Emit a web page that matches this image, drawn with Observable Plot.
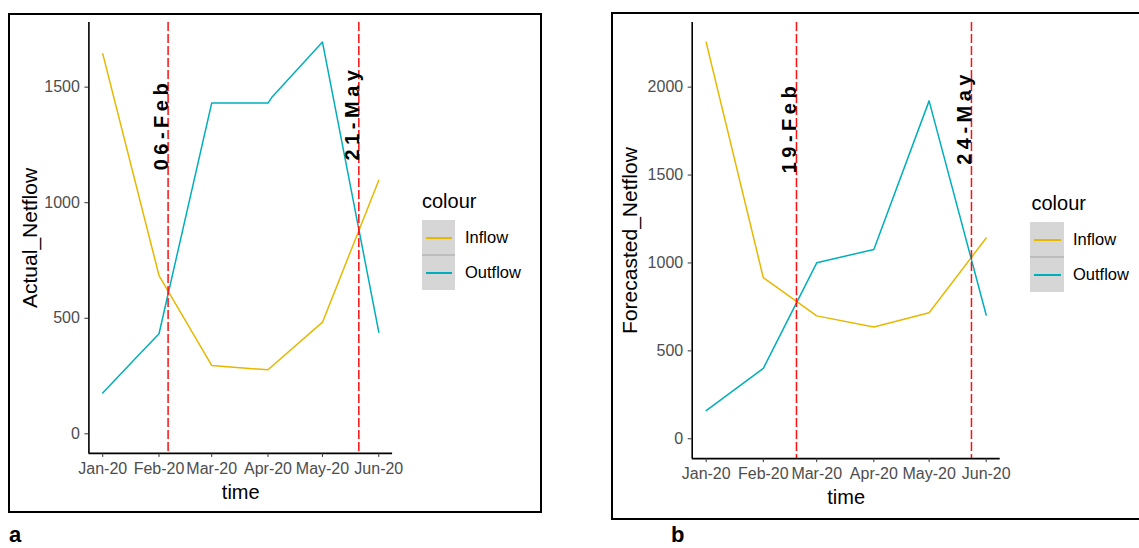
<!DOCTYPE html>
<html>
<head>
<meta charset="utf-8">
<script src="https://cdn.jsdelivr.net/npm/d3@7"></script>
<script src="https://cdn.jsdelivr.net/npm/@observablehq/plot@0.6"></script>
<style>
  body { margin: 0; background: #fff; font-family: "Liberation Sans", Arial, sans-serif; }
  #stage { position: relative; width: 1139px; height: 548px; overflow: hidden; background: #fff; }
  .box { position: absolute; border: 2px solid #000; box-sizing: border-box; }
  .panel { position: absolute; top: 0; }
  .panel svg { overflow: visible; max-width: none; }
  g[font-weight="bold"] text { letter-spacing: 4.5px; }
  .ltitle { position: absolute; font-size: 20px; line-height: 20px; color: #000; white-space: nowrap; }
  .lkey { position: absolute; background: #D6D6D6; box-sizing: border-box; }
  .lsep { position: absolute; height: 2px; background: #BDBDBD; }
  .lline { position: absolute; height: 2px; }
  .llabel { position: absolute; font-size: 16.5px; line-height: 16px; color: #000; white-space: nowrap; }
  .tag { position: absolute; font-size: 22px; line-height: 22px; font-weight: bold; color: #000; }
</style>
</head>
<body>
<div id="stage">
  <div class="box" style="left:8px;top:13px;width:534px;height:500px;"></div>
  <div class="box" style="left:611px;top:12px;width:560px;height:508px;"></div>
  <div class="tag" style="left:9px;top:524px;">a</div>
  <div class="tag" style="left:671px;top:524px;">b</div>
</div>
<script>
// ---- data ----
const months = ["2020-01-01", "2020-02-01", "2020-03-01", "2020-04-01", "2020-05-01", "2020-06-01"];
const seriesNames = ["Inflow", "Outflow"];
const seriesColors = ["#E7B800", "#00AFBB"];

// Panel a: actual
const actualInflowDates = ["2020-01-01", "2020-02-01", "2020-03-01", "2020-03-13", "2020-04-01", "2020-05-01", "2020-06-01"];
const actualInflow = [1645, 685, 296, 288, 277, 483, 1097];
const actualOutflowDates = ["2020-01-01", "2020-01-17", "2020-02-01", "2020-03-01", "2020-04-01", "2020-04-03", "2020-05-01", "2020-06-01"];
const actualOutflow = [177, 310, 433, 1431, 1431, 1455, 1695, 440];
const actualCrossDates = ["2020-02-06", "2020-05-21"];
const actualCrossLabels = ["06-Feb", "21-May"];
const actualCrossLabelY = [1140, 1183];
const actualYTicks = [0, 500, 1000, 1500];

// Panel b: forecast
const forecastDates = ["2020-01-01", "2020-02-01", "2020-03-01", "2020-04-01", "2020-05-01", "2020-06-01"];
const forecastInflow = [2255, 916, 699, 636, 717, 1142];
const forecastOutflow = [160, 400, 1001, 1077, 1922, 704];
const forecastCrossDates = ["2020-02-19", "2020-05-24"];
const forecastCrossLabels = ["19-Feb", "24-May"];
const forecastCrossLabelY = [1510, 1558];
const forecastYTicks = [0, 500, 1000, 1500, 2000];

// ---- drawing ----
const stage = document.getElementById("stage");
const parse = d3.utcParse("%Y-%m-%d");
const fmt = d3.utcFormat("%b-%y");

function panel(cfg) {
  const rows = [
    ...cfg.inDates.map((d, i) => ({t: parse(d), v: cfg.inVals[i], s: seriesNames[0]})),
    ...cfg.outDates.map((d, i) => ({t: parse(d), v: cfg.outVals[i], s: seriesNames[1]}))
  ];
  const t0 = parse(months[0]), t1 = parse(months[months.length - 1]);
  const span = t1 - t0;
  const xDomain = [new Date(+t0 - 0.05 * span), new Date(+t1 + 0.05 * span)];
  const vmax = d3.max(rows, d => d.v), vmin = Math.min(0, d3.min(rows, d => d.v));
  const ys = vmax - vmin;
  const yDomain = [vmin - 0.05 * ys, vmax + 0.05 * ys];
  const cross = cfg.crossDates.map((d, i) => ({t: parse(d), label: cfg.crossLabels[i], y: cfg.crossY[i]}));

  const chart = Plot.plot({
    width: cfg.width, height: cfg.height,
    marginLeft: cfg.mL, marginRight: cfg.mR, marginTop: cfg.mT, marginBottom: cfg.mB,
    style: {background: "transparent", fontFamily: "Liberation Sans, Arial, sans-serif", fontSize: "16px", overflow: "visible"},
    x: {type: "utc", domain: xDomain},
    y: {domain: yDomain},
    color: {domain: seriesNames, range: seriesColors},
    marks: [
      Plot.line(rows, {x: "t", y: "v", stroke: "s", strokeWidth: 1.5}),
      Plot.ruleX(cross, {x: "t", stroke: "#FF1010", strokeWidth: 1.5, strokeDasharray: "9,3"}),
      Plot.text(cross, {x: "t", y: "y", text: "label", rotate: -90, textAnchor: "start", lineAnchor: "bottom",
        fontWeight: "bold", fontSize: 20, fill: "#000"}),
      Plot.ruleY([yDomain[0]], {stroke: "#000", strokeWidth: 1.6}),
      Plot.ruleX([xDomain[0]], {stroke: "#000", strokeWidth: 1.6}),
      Plot.axisX({ticks: months.map(parse), tickFormat: fmt, tickSize: 4, tickPadding: 5,
        stroke: "#333", fill: "#4D4D4D", fontSize: 16, label: null}),
      Plot.axisY({ticks: cfg.yTicks, tickFormat: d3.format("d"), tickSize: 4, tickPadding: 5,
        stroke: "#333", fill: "#4D4D4D", fontSize: 16, label: null}),
      Plot.text([cfg.yLabel], {frameAnchor: "left", dx: cfg.yTitleDx, rotate: -90, textAnchor: "middle",
        lineAnchor: "middle", fontSize: 21, fill: "#000"}),
      Plot.text(["time"], {frameAnchor: "bottom", dy: 39, textAnchor: "middle", lineAnchor: "middle",
        fontSize: 20, fill: "#000"})
    ]
  });
  const holder = document.createElement("div");
  holder.className = "panel";
  holder.style.left = cfg.left + "px";
  holder.style.width = cfg.width + "px";
  holder.appendChild(chart);
  stage.appendChild(holder);

  // legend
  const L = cfg.legend;
  const title = document.createElement("div");
  title.className = "ltitle";
  title.textContent = "colour";
  title.style.left = L.titleX + "px";
  title.style.top = L.titleY + "px";
  stage.appendChild(title);
  seriesNames.forEach((name, i) => {
    const key = document.createElement("div");
    key.className = "lkey";
    Object.assign(key.style, {left: L.keyX + "px", top: (L.keyY + i * L.keyH) + "px", width: L.keyW + "px", height: L.keyH + "px"});
    stage.appendChild(key);
    const line = document.createElement("div");
    line.className = "lline";
    Object.assign(line.style, {left: (L.keyX + 4) + "px", top: Math.round(L.keyY + i * L.keyH + L.keyH / 2 - 1) + "px", width: (L.keyW - 7) + "px", background: seriesColors[i]});
    stage.appendChild(line);
    const lab = document.createElement("div");
    lab.className = "llabel";
    lab.textContent = name;
    Object.assign(lab.style, {left: L.labelX + "px", top: Math.round(L.keyY + i * L.keyH + L.keyH / 2 - 8.5) + "px"});
    stage.appendChild(lab);
  });
  const sep = document.createElement("div");
  sep.className = "lsep";
  Object.assign(sep.style, {left: L.keyX + "px", top: Math.round(L.keyY + L.keyH - 1) + "px", width: L.keyW + "px"});
  stage.appendChild(sep);
}

panel({
  inDates: actualInflowDates, inVals: actualInflow,
  outDates: actualOutflowDates, outVals: actualOutflow,
  crossDates: actualCrossDates, crossLabels: actualCrossLabels, crossY: actualCrossLabelY,
  yTicks: actualYTicks, yLabel: "Actual_Netflow", yTitleDx: -59,
  left: 0, width: 400, height: 500, mL: 88.4, mR: 7.9, mT: 22, mB: 47.1,
  legend: {titleX: 422, titleY: 191, keyX: 422, keyY: 220, keyW: 33, keyH: 35, labelX: 465}
});

panel({
  inDates: forecastDates, inVals: forecastInflow,
  outDates: forecastDates, outVals: forecastOutflow,
  crossDates: forecastCrossDates, crossLabels: forecastCrossLabels, crossY: forecastCrossLabelY,
  yTicks: forecastYTicks, yLabel: "Forecasted_Netflow", yTitleDx: -62,
  left: 600, width: 420, height: 520, mL: 91.7, mR: 20.3, mT: 22, mB: 61.9,
  legend: {titleX: 1031.5, titleY: 193, keyX: 1030, keyY: 222, keyW: 34, keyH: 35, labelX: 1073}
});
</script>
</body>
</html>
